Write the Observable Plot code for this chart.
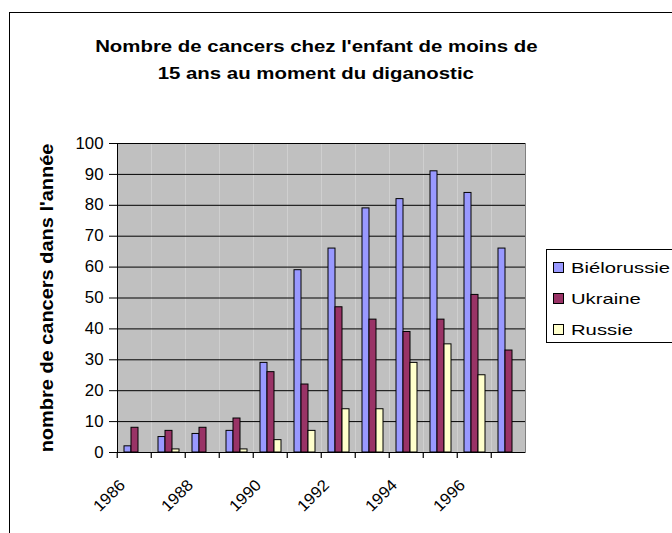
<!DOCTYPE html>
<html>
<head>
<meta charset="utf-8">
<script src="https://cdn.jsdelivr.net/npm/d3@7"></script>
<script src="https://cdn.jsdelivr.net/npm/@observablehq/plot@0.6"></script>
<style>
  html, body { margin: 0; padding: 0; background: #fff; overflow: hidden; }
  #page { position: relative; width: 672px; height: 533px; overflow: hidden; font-family: "Liberation Sans", Arial, sans-serif; color: #000; }
  #border { position: absolute; left: 9px; top: 12px; width: 760px; height: 700px; border: 1.5px solid #000; box-sizing: border-box; pointer-events: none; z-index: 3; }
  #title { position: absolute; left: 0; top: 33px; width: 632px; text-align: center; font-weight: bold; font-size: 17px; line-height: 27px; z-index: 2; }
  #title span { display: inline-block; transform: scaleX(1.2); transform-origin: center; }
  #chart { position: absolute; left: 0; top: 0; z-index: 1; }
  #legend { position: absolute; left: 546px; top: 249px; width: 200px; height: 94px; border: 1px solid #000; box-sizing: border-box; background: #fff; padding-top: 2px; z-index: 2; }
  .item { height: 31px; line-height: 31px; font-size: 15px; position: relative; }
  .sw { position: absolute; left: 6px; top: 10px; width: 9px; height: 9px; border: 1px solid #000; }
  .lt { position: absolute; left: 24px; top: 0; display: inline-block; transform: scaleX(1.35); transform-origin: left center; white-space: nowrap; }
</style>
</head>
<body>
<div id="page">
  <div id="chart"></div>
  <div id="title"><span id="t1"></span><br><span id="t2"></span></div>
  <div id="legend"></div>
  <div id="border"></div>
</div>
<script>
// ---- data ----
const titleLines = ["Nombre de cancers chez l'enfant de moins de", "15 ans au moment du diganostic"];
const yLabel = "nombre de cancers dans l'année";
const years = [1986, 1987, 1988, 1989, 1990, 1991, 1992, 1993, 1994, 1995, 1996, 1997];
const labelYears = [1986, 1988, 1990, 1992, 1994, 1996];
const seriesNames = ["Biélorussie", "Ukraine", "Russie"];
const bielorussie = [2, 5, 6, 7, 29, 59, 66, 79, 82, 91, 84, 66];
const ukraine = [8, 7, 8, 11, 26, 22, 47, 43, 39, 43, 51, 33];
const russie = [0, 1, 0, 1, 4, 7, 14, 14, 29, 35, 25, 0];
const yTicks = [0, 10, 20, 30, 40, 50, 60, 70, 80, 90, 100];

const palette = ["#9999ff", "#993366", "#ffffcc"];

const seriesValues = [bielorussie, ukraine, russie];
const data = years.flatMap((yr, i) =>
  seriesNames.map((s, k) => ({year: yr, series: s, value: seriesValues[k][i]}))
);

// ---- layout ----
const W = 540, H = 533;
const mL = 114, mR = 12, mT = 143, mB = 81;
const step = (W - mL - mR) / years.length;

const chart = Plot.plot({
  width: W, height: H,
  marginLeft: mL, marginRight: mR, marginTop: mT, marginBottom: mB,
  style: {fontFamily: "'Liberation Sans', Arial, sans-serif", fontSize: "16px", color: "black", background: "transparent"},
  fx: {domain: years, padding: 0, axis: null, label: null},
  x: {domain: seriesNames, paddingInner: 0, paddingOuter: 0.75, axis: null},
  y: {domain: [0, 100], axis: null},
  color: {domain: seriesNames, range: palette},
  marks: [
    Plot.frame({fill: "#c0c0c0"}),
    Plot.ruleY(yTicks, {stroke: "black", strokeWidth: 1}),
    Plot.barY(data, {fx: "year", x: "series", y: "value", fill: "series", stroke: "black", strokeWidth: 1}),
    Plot.frame({anchor: "left", stroke: "black", facetAnchor: "left"}),
    Plot.frame({anchor: "right", stroke: "#808080", facetAnchor: "right"}),
    Plot.axisY({ticks: yTicks, tickSize: 8, tickPadding: 6, label: null, fontSize: 16}),
    Plot.axisY({ticks: [], tickSize: 0, label: yLabel, labelAnchor: "center", labelOffset: 77, labelArrow: "none", fontWeight: "bold", fontSize: 18}),
    Plot.axisFx({anchor: "bottom", ticks: years, tickSize: 6, tickFormat: () => "", stroke: "black", strokeWidth: 1.2, dx: -step / 2, label: null}),
    Plot.axisFx({anchor: "bottom", ticks: labelYears, tickFormat: d => String(d), tickSize: 0, tickRotate: -45, tickPadding: 30, dx: -12, label: null, fontSize: 16})
  ]
});

// widened lettering, as in the original
const stretch = {"y-axis tick label": 1.05, "fx-axis tick label": 1.05, "y-axis label": 1.11};
chart.querySelectorAll("g[aria-label]").forEach(g => {
  const f = stretch[g.getAttribute("aria-label")];
  if (!f) return;
  g.querySelectorAll("text").forEach(t => {
    const tr = t.getAttribute("transform");
    if (tr) t.setAttribute("transform", tr + ` scale(${f},1)`);
  });
});

document.getElementById("chart").appendChild(chart);
document.getElementById("t1").textContent = titleLines[0];
document.getElementById("t2").textContent = titleLines[1];

const legend = document.getElementById("legend");
seriesNames.forEach((s, k) => {
  const item = document.createElement("div");
  item.className = "item";
  const sw = document.createElement("span");
  sw.className = "sw";
  sw.style.background = palette[k];
  const lt = document.createElement("span");
  lt.className = "lt";
  lt.textContent = s;
  item.appendChild(sw);
  item.appendChild(lt);
  legend.appendChild(item);
});
</script>
</body>
</html>
